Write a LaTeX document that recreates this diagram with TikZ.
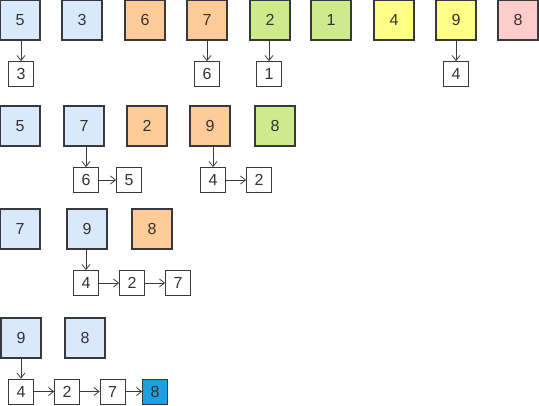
\documentclass[tikz,border=0pt]{standalone}
\usepackage{fontspec}
\setmainfont{Liberation Sans}
\usetikzlibrary{arrows.meta}
\definecolor{edge}{HTML}{36393D}
\definecolor{txt}{HTML}{333333}
\definecolor{cblue}{HTML}{DAE8FC}
\definecolor{corange}{HTML}{FFCC99}
\definecolor{cgreen}{HTML}{CDEB8B}
\definecolor{cyellow}{HTML}{FFFF88}
\definecolor{cpink}{HTML}{FFCCCC}
\definecolor{cdeep}{HTML}{1BA1E2}
\begin{document}
\begin{tikzpicture}[x=1pt,y=-1pt,
  card/.style={draw=edge,line width=1.1pt,minimum size=40pt,inner sep=0pt,font=\fontsize{16}{18}\selectfont,text=txt},
  cell/.style={draw=edge,line width=0.8pt,fill=white,minimum size=25pt,inner sep=0pt,font=\fontsize{16}{18}\selectfont,text=txt},
  link/.style={draw=edge,line width=0.8pt,-{Straight Barb[length=5pt,width=8pt]}}]
\useasboundingbox (0,0) rectangle (539,405);
% first round
\node[card,fill=cblue] (a1) at (20,20) {5};
\node[card,fill=cblue] (a2) at (82,20) {3};
\node[card,fill=corange] (a3) at (145,20) {6};
\node[card,fill=corange] (a4) at (207,20) {7};
\node[card,fill=cgreen] (a5) at (270,20) {2};
\node[card,fill=cgreen] (a6) at (331,20) {1};
\node[card,fill=cyellow] (a7) at (394,20) {4};
\node[card,fill=cyellow] (a8) at (456,20) {9};
\node[card,fill=cpink] (a9) at (518,20) {8};
\node[cell] (p1) at (21,74) {3};
\node[cell] (p2) at (207,74) {6};
\node[cell] (p3) at (269,74) {1};
\node[cell] (p4) at (456,74) {4};
\draw[link] (p1.north |- a1.south) -- (p1);
\draw[link] (p2.north |- a4.south) -- (p2);
\draw[link] (p3.north |- a5.south) -- (p3);
\draw[link] (p4.north |- a8.south) -- (p4);
% second round
\node[card,fill=cblue] (b1) at (20,126) {5};
\node[card,fill=cblue] (b2) at (84,126) {7};
\node[card,fill=corange] (b3) at (147,126) {2};
\node[card,fill=corange] (b4) at (210,126) {9};
\node[card,fill=cgreen] (b5) at (275,126) {8};
\node[cell] (q1) at (86,180) {6};
\node[cell] (q2) at (129,180) {5};
\node[cell] (q3) at (213,180) {4};
\node[cell] (q4) at (259,180) {2};
\draw[link] (q1.north |- b2.south) -- (q1);
\draw[link] (q1) -- (q2);
\draw[link] (q3.north |- b4.south) -- (q3);
\draw[link] (q3) -- (q4);
% third round
\node[card,fill=cblue] (c1) at (20,229) {7};
\node[card,fill=cblue] (c2) at (87,229) {9};
\node[card,fill=corange] (c3) at (152,229) {8};
\node[cell] (r1) at (86,283) {4};
\node[cell] (r2) at (132,283) {2};
\node[cell] (r3) at (178,283) {7};
\draw[link] (r1.north |- c2.south) -- (r1);
\draw[link] (r1) -- (r2);
\draw[link] (r2) -- (r3);
% fourth round
\node[card,fill=cblue] (d1) at (21,338) {9};
\node[card,fill=cblue] (d2) at (85,338) {8};
\node[cell] (s1) at (21,391.5) {4};
\node[cell] (s2) at (67,391.5) {2};
\node[cell] (s3) at (112.5,391.5) {7};
\node[cell,fill=cdeep] (s4) at (155,391.5) {8};
\draw[link] (s1.north |- d1.south) -- (s1);
\draw[link] (s1) -- (s2);
\draw[link] (s2) -- (s3);
\draw[link] (s3) -- (s4);
\end{tikzpicture}
\end{document}
